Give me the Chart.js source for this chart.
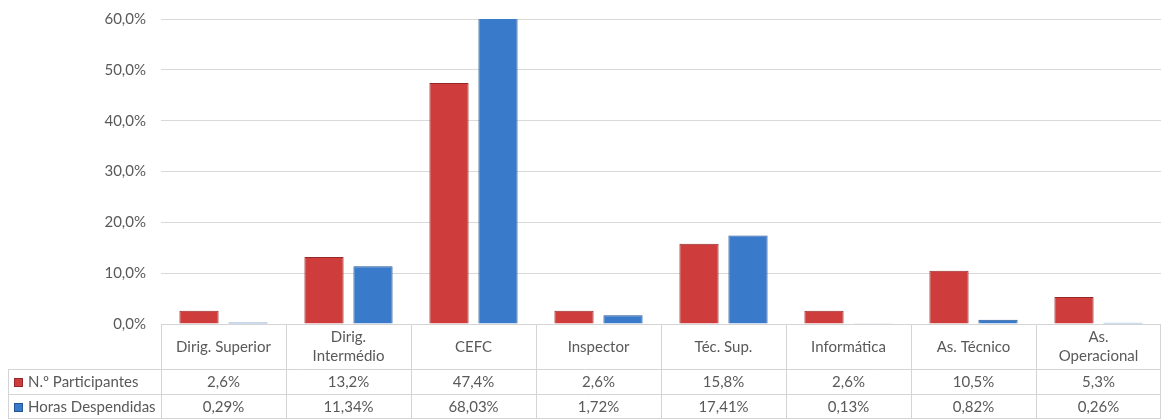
<!DOCTYPE html>
<html><head><meta charset="utf-8">
<script src="https://cdn.jsdelivr.net/npm/chart.js@4"></script>
<style>html,body{margin:0;padding:0;background:#fff;}#wrap{width:1162px;height:419px;}</style>
</head><body><div id="wrap"><canvas id="c" width="1162" height="419"></canvas></div>
<script>
const categories = [["Dirig. Superior"],["Dirig.","Intermédio"],["CEFC"],["Inspector"],["Téc. Sup."],["Informática"],["As. Técnico"],["As.","Operacional"]];
const participantes = [2.6, 13.2, 47.4, 2.6, 15.8, 2.6, 10.5, 5.3];
const horas = [0.29, 11.34, 68.03, 1.72, 17.41, 0.13, 0.82, 0.26];
const seriesNames = ["N.º Participantes", "Horas Despendidas"];
const yTicks = [0, 10, 20, 30, 40, 50, 60];

const FONT = "Lato, 'Liberation Sans', sans-serif";
const TXT = "#595959";
const BORDER = "#d4d4d4";
const RED = "#cf3c3c", RED_D = "#962828";
const BLUE = "#3a7acb", BLUE_D = "#255694";

function fmt(v, d){ return v.toFixed(d).replace('.', ',') + '%'; }

const tablePlugin = {
  id: 'dataTable',
  afterDraw(chart){
    const ctx = chart.ctx, x = chart.scales.x, ca = chart.chartArea;
    const n = categories.length;
    const w = (ca.right - ca.left) / n;
    const top = ca.bottom, r1 = top + 45, r2 = r1 + 25, bot = r2 + 25;
    const leftX = 8;
    ctx.save();
    ctx.strokeStyle = BORDER; ctx.lineWidth = 1;
    ctx.beginPath();
    ctx.moveTo(ca.left, top + 0.5); ctx.lineTo(ca.right, top + 0.5);
    ctx.moveTo(leftX, r1 + 0.5); ctx.lineTo(ca.right, r1 + 0.5);
    ctx.moveTo(leftX, r2 + 0.5); ctx.lineTo(ca.right, r2 + 0.5);
    ctx.moveTo(leftX, bot - 0.5); ctx.lineTo(ca.right, bot - 0.5);
    ctx.moveTo(leftX + 0.5, r1); ctx.lineTo(leftX + 0.5, bot);
    for (let i = 0; i <= n; i++){
      const px = Math.round(x.getPixelForValue(i) - w/2) + 0.5;
      ctx.moveTo(Math.min(px, ca.right - 0.5), top); ctx.lineTo(Math.min(px, ca.right - 0.5), bot);
    }
    ctx.stroke();
    ctx.fillStyle = TXT; ctx.font = "15px " + FONT; ctx.textAlign = 'center'; ctx.textBaseline = 'middle';
    for (let i = 0; i < n; i++){
      const cx = x.getPixelForValue(i);
      const lines = categories[i];
      if (lines.length === 1) ctx.fillText(lines[0], cx, top + 23);
      else { ctx.fillText(lines[0], cx, top + 13); ctx.fillText(lines[1], cx, top + 32); }
      ctx.fillText(fmt(participantes[i], 1), cx, r1 + 13);
      ctx.fillText(fmt(horas[i], 2), cx, r2 + 13);
    }
    const keys = [[RED, RED_D, r1 + 13], [BLUE, BLUE_D, r2 + 13]];
    keys.forEach((k, j) => {
      ctx.fillStyle = k[0]; ctx.fillRect(14, k[2] - 4, 9, 9);
      ctx.strokeStyle = k[1]; ctx.strokeRect(14.5, k[2] - 3.5, 8, 8);
      ctx.fillStyle = TXT; ctx.textAlign = 'left';
      ctx.fillText(seriesNames[j], 28, k[2]);
    });
    ctx.restore();
  }
};

function grad(ctx, base, dark, light){
  const c = ctx.chart, ca = c.chartArea;
  if (!ca) return base;
  const el = ctx.element;
  if (!el || el.x === undefined) return base;
  const hw = el.width / 2;
  const g = c.ctx.createLinearGradient(el.x - hw, 0, el.x + hw, 0);
  g.addColorStop(0, base); g.addColorStop(0.5, light); g.addColorStop(0.85, base); g.addColorStop(1, dark);
  return g;
}

new Chart(document.getElementById('c'), {
  type: 'bar',
  data: {
    labels: categories.map(c => c.join(' ')),
    datasets: [
      { label: seriesNames[0], data: participantes,
        backgroundColor: ctx => grad(ctx, RED, RED_D, "#da4848"),
        borderColor: RED_D, borderWidth: 1,
        categoryPercentage: 0.784, barPercentage: 0.8 },
      { label: seriesNames[1], data: horas,
        backgroundColor: ctx => grad(ctx, BLUE, BLUE_D, "#4585d4"),
        borderColor: BLUE_D, borderWidth: 1,
        categoryPercentage: 0.784, barPercentage: 0.8 }
    ]
  },
  options: {
    responsive: false, animation: false,
    layout: { padding: { top: 19, right: 1, bottom: 95, left: 0 } },
    plugins: { legend: { display: false }, tooltip: { enabled: false } },
    scales: {
      x: { display: false, offset: true, grid: { display: false } },
      y: {
        min: 0, max: 60,
        afterFit(s){ s.width = 161; s.paddingTop = 0; s.paddingBottom = 0; },
        afterBuildTicks(s){ s.ticks = yTicks.map(v => ({ value: v })); },
        border: { display: false },
        grid: { color: "#d9d9d9", lineWidth: 1, drawTicks: false },
        ticks: { padding: 15, color: TXT, font: { family: FONT, size: 15 },
          callback: v => fmt(v, 1) }
      }
    }
  },
  plugins: [tablePlugin]
});
</script></body></html>
